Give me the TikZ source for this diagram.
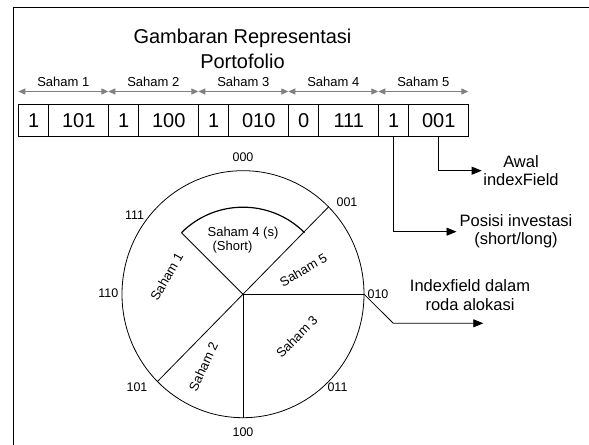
\documentclass[tikz,border=0pt]{standalone}
\usepackage{fontspec}
\setmainfont{Liberation Sans}
\usetikzlibrary{arrows.meta,calc}
\begin{document}
\begin{tikzpicture}[x=1bp,y=1bp,
  line width=0.8bp,
  lbl/.style={font=\fontsize{13bp}{15bp}\selectfont, inner sep=0pt},
  num/.style={font=\fontsize{12.5bp}{15bp}\selectfont, inner sep=0pt},
  big/.style={font=\fontsize{20bp}{25bp}\selectfont, inner sep=0pt, align=center},
  note/.style={font=\fontsize{16.5bp}{18.5bp}\selectfont, inner sep=0pt, align=center},
  cell/.style={draw, line width=0.8bp, minimum height=31.5bp, inner sep=0pt,
    font=\fontsize{20bp}{24bp}\selectfont, anchor=south west},
  smallcell/.style={cell, minimum width=30bp},
  widecell/.style={cell, minimum width=60bp},
  span/.style={draw=black!50, line width=1bp,
    {Triangle[length=7bp,width=6bp]}-{Triangle[length=7bp,width=6bp]}},
  pointer/.style={draw, line width=0.8bp, -{Triangle[length=10bp,width=8bp]}}
]
\useasboundingbox (0,0) rectangle (589,445);
\clip (0,0) rectangle (589,445);
% frame
\draw (13.3,-20) rectangle (640,437.5);

% title
\node[big] (title) at (242.5,395.8) {Gambaran Representasi\\Portofolio};

% span arrows
\coordinate (s0) at (18.3,353.5);
\coordinate (s1) at (108.3,353.5);
\coordinate (s2) at (198.3,353.5);
\coordinate (s3) at (288.3,353.5);
\coordinate (s4) at (378.3,353.5);
\coordinate (s5) at (468.3,353.5);
\draw[span] (s0) -- (s1);
\draw[span] (s1) -- (s2);
\draw[span] (s2) -- (s3);
\draw[span] (s3) -- (s4);
\draw[span] (s4) -- (s5);
\node[lbl] (l1) at (63.3,363.5) {Saham 1};
\node[lbl] (l2) at (153.3,363.5) {Saham 2};
\node[lbl] (l3) at (243.3,363.5) {Saham 3};
\node[lbl] (l4) at (333.3,363.5) {Saham 4};
\node[lbl] (l5) at (423.3,363.5) {Saham 5};

% register
\node[smallcell] (b1) at (18.3,308.5) {1};
\node[widecell] (b2) at (48.3,308.5) {101};
\node[smallcell] (b3) at (108.3,308.5) {1};
\node[widecell] (b4) at (138.3,308.5) {100};
\node[smallcell] (b5) at (198.3,308.5) {1};
\node[widecell] (b6) at (228.3,308.5) {010};
\node[smallcell] (b7) at (288.3,308.5) {0};
\node[widecell] (b8) at (318.3,308.5) {111};
\node[smallcell] (b9) at (378.3,308.5) {1};
\node[widecell] (b10) at (408.3,308.5) {001};

% wheel
\coordinate (c) at (243,150.8);
\draw (c) ellipse [x radius=121, y radius=123.5];
\path (c) ++(0:121 and 123.5) coordinate (q0);
\path (c) ++(45:121 and 123.5) coordinate (q45);
\path (c) ++(225:121 and 123.5) coordinate (q225);
\path (c) ++(270:121 and 123.5) coordinate (q270);
\path (c) ++(135:87) coordinate (r135);
\draw (c) -- (q0);
\draw (c) -- (q270);
\draw (q225) -- (q45);
\draw (c) -- (r135);
\draw[line width=1.2bp] (r135) arc[start angle=135, end angle=45, radius=87];

% wheel index labels
\node[num] (n000) at (243,288) {000};
\node[num] (n001) at (347,242.3) {001};
\node[num] (n111) at (134.5,230) {111};
\node[num] (n110) at (108.3,152) {110};
\node[num] (n010) at (378,151) {010};
\node[num] (n011) at (337.5,57.3) {011};
\node[num] (n101) at (137,57.3) {101};
\node[num] (n100) at (243,13.3) {100};

% sector labels
\node[lbl, rotate=60] (w1) at (166.7,168.3) {Saham 1};
\node[lbl, rotate=65] (w2) at (203.3,78.3) {Saham 2};
\node[lbl, rotate=45] (w3) at (296.7,108.3) {Saham 3};
\node[lbl, rotate=30] (w5) at (303.3,175) {Saham 5};
\node[lbl] (w4) at (243,211.7) {Saham 4 (s)};
\node[lbl] (w4b) at (232.5,198.3) {(Short)};

% callouts
\coordinate (t1) at (481.7,274.3);
\coordinate (t2) at (456.5,213.3);
\coordinate (k3) at (393.3,121.7);
\coordinate (t3) at (483.3,121.7);
\draw[pointer] (b10.south) |- (t1);
\draw[pointer] (b9.south) |- (t2);
\draw[pointer] (q0) -- (k3) -- (t3);

\node[note] (a1) at (521,274.2) {Awal\\indexField};
\node[note] (a2) at (516,213.7) {Posisi investasi\\(short/long)};
\node[note] (a3) at (470,150) {Indexfield dalam\\roda alokasi};
\end{tikzpicture}
\end{document}
